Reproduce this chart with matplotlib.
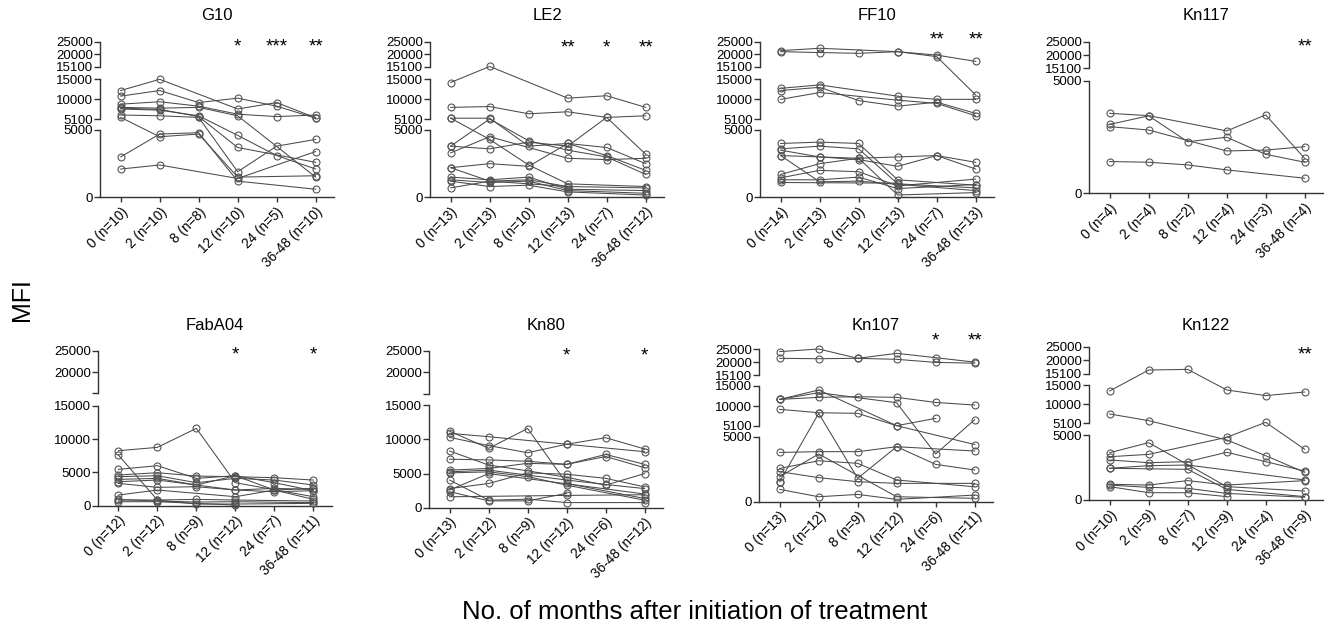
import numpy as np
import matplotlib
matplotlib.use("Agg")
import matplotlib.pyplot as plt

plt.rcParams['font.family'] = ['Liberation Sans', 'DejaVu Sans']

nan = np.nan
months = ["0", "2", "8", "12", "24", "36-48"]

# ---- data (MFI per patient, NaN = no sample) ----
g10_n = [10, 10, 8, 10, 5, 10]
g10 = [
    [12200, 15000, nan, 7600, 9200, 5400],
    [10800, 12200, 9200, 10300, 8300, 5300],
    [8800, 9400, 8300, 6300, 5700, 6100],
    [8000, 7800, 8000, 5900, nan, 1500],
    [7600, 7300, 5900, 4600, 3100, 2100],
    [7800, 7500, 5700, 3700, nan, 2600],
    [6100, 5900, 5500, 1900, 3800, 4300],
    [5500, 4500, 4700, 1500, nan, 1600],
    [3000, 4700, 4800, 1200, nan, 600],
    [2100, 2400, nan, 1400, nan, 3400],
]
g10_stars = ["", "", "", "*", "***", "**"]

le2_n = [13, 13, 10, 13, 7, 12]
le2 = [
    [14200, 15200, nan, 10300, 10900, 8000],
    [8000, 8200, 6400, 6900, 5500, 5900],
    [5300, 5300, 3800, 4000, 3700, 2500],
    [5300, 4300, 2400, 1000, nan, 800],
    [3800, 5100, 4200, 3500, 3000, 1700],
    [3800, 3600, 4100, 3800, 5500, 3200],
    [3300, 4500, nan, 2900, 2800, 2900],
    [2200, 2500, 2300, 4000, 3100, 2000],
    [2200, 1200, 1300, 800, nan, 700],
    [1500, 1300, 1500, 600, nan, 500],
    [1300, 1100, 1200, 500, nan, 300],
    [1200, 800, 900, 400, nan, 170],
    [700, 1200, nan, 800, nan, nan],
]
le2_stars = ["", "", "", "**", "*", "**"]

ff10_n = [14, 13, 10, 13, 7, 13]
ff10 = [
    [21450, 22400, nan, 21050, 19700, 17200],
    [21050, 20700, 20400, 21050, 19100, 11100],
    [12750, 13600, nan, 10800, 10000, 10000],
    [12200, 13000, 9700, 8300, 9300, 6500],
    [10000, 11700, nan, 9800, 9000, 5900],
    [4000, 4100, 4000, 1300, nan, 900],
    [3600, 3800, 3600, 1000, nan, 700],
    [3500, 3000, 2900, 3000, 3100, 2600],
    [3100, 1150, 1200, nan, nan, 500],
    [3100, 3000, 2800, 2300, 3100, 2100],
    [1700, 2500, 2900, 170, nan, 350],
    [1450, 2000, 1900, 850, nan, 1350],
    [1300, 1300, 1500, 650, nan, 950],
    [1100, nan, nan, 1050, nan, nan],
]
ff10_stars = ["", "", "", "", "**", "**"]

kn117_n = [4, 4, 2, 4, 3, 4]
kn117 = [
    [3550, 3450, nan, 2770, 3480, 1550],
    [3060, 3440, 2290, 2490, 1730, 1380],
    [2960, 2810, nan, 1880, 1920, 2070],
    [1410, 1380, 1260, 1040, nan, 670],
]
kn117_stars = ["", "", "", "", "", "**"]

faba04_n = [12, 12, 9, 12, 7, 11]
faba04 = [
    [8250, 8750, 11600, 3450, nan, 1350],
    [7600, 850, 950, 850, nan, 700],
    [5450, 6000, 4100, 4500, 3450, 2250],
    [4600, 4950, 4450, 4350, 4200, 3850],
    [4350, 4500, 3450, 4100, 3850, 3100],
    [3950, 4100, 3100, 4500, 2350, 2600],
    [3600, 3850, nan, 2350, 2600, 2450],
    [3350, 2750, 2850, 2350, 2100, 2250],
    [1600, 2350, nan, 1350, 2350, 950],
    [950, 700, 550, 600, nan, 450],
    [850, 850, 250, 250, nan, 350],
    [600, 600, nan, 100, nan, nan],
]
faba04_stars = ["", "", "", "*", "", "*"]

kn80_n = [13, 12, 9, 12, 6, 12]
kn80 = [
    [11200, 8700, 11600, 3550, nan, 1350],
    [10900, 10400, nan, 9300, nan, 8200],
    [10300, 9100, 8050, 9300, 10250, 8600],
    [8300, 6250, 5400, 4450, 3300, 5000],
    [7100, 7000, 6800, 6350, 7800, 6350],
    [5500, 5750, 6500, 6350, 7500, 5850],
    [5250, 5500, nan, 4050, 3400, 2800],
    [5100, 5250, 4550, 3300, nan, 1100],
    [4050, 1100, 1250, 750, nan, 750],
    [2800, 3550, 5100, 4900, 4300, 3050],
    [2600, 5000, nan, nan, nan, 2000],
    [2350, 1000, 1000, 2100, nan, nan],
    [1600, nan, nan, 1800, nan, 1900],
]
kn80_stars = ["", "", "", "*", "", "*"]

kn107_n = [13, 12, 9, 12, 6, 11]
kn107 = [
    [24000, 25000, 21450, 23350, 21700, 20000],
    [21450, 21300, 21450, 21070, 19900, 19600],
    [11660, 12170, 12330, 12170, 10900, 10250],
    [11660, 14000, nan, 5100, nan, 4400],
    [11660, 13340, nan, 10830, 3670, 6600],
    [9180, 8340, 8180, 5100, 6930, nan],
    [3790, 3850, 3850, 4230, nan, 3900],
    [1540, 8180, 1800, 4230, 2870, 2440],
    [2560, 3150, 2950, 1670, nan, 1150],
    [2310, 1850, 1540, 1410, nan, 1410],
    [1920, 3670, nan, 380, nan, 260],
    [950, 380, 560, 180, nan, 510],
    [1490, nan, nan, nan, nan, nan],
]
kn107_stars = ["", "", "", "", "*", "**"]

kn122_n = [10, 9, 7, 9, 4, 9]
kn122 = [
    [13460, 16440, 16690, 13720, 12260, 13190],
    [7510, 5790, nan, 4620, 3410, 2130],
    [3640, 4410, nan, 1030, nan, 690],
    [3330, 3510, nan, 4820, 5350, 3900],
    [3080, 2870, 2950, 3670, 2950, 2230],
    [2440, 2640, 2690, nan, nan, 1540],
    [2440, nan, 2360, 820, nan, 260],
    [1210, 1150, 1490, 1150, nan, 1490],
    [1150, 970, 900, 510, nan, 210],
    [1030, 560, 560, 260, nan, nan],
]
kn122_stars = ["", "", "", "", "", "**"]

# ---- segmented y axes (value breakpoints -> pixel rows in the figure) ----
seg3_vals = [0, 5000, 5100, 15000, 15100, 25000]
seg3_ticks = [0, 5000, 5100, 10000, 15000, 15100, 20000, 25000]
seg3_labels = [str(t) for t in seg3_ticks]
seg3_spine = [(0, 5000), (5100, 15000), (15100, 25000)]

seg2_vals = [0, 15000, 15100, 25000]
seg2_ticks = [0, 5000, 10000, 15000, 15100, 20000, 25000]
seg2_labels = ["0", "5000", "10000", "15000", "", "20000", "25000"]
seg2_spine = [(0, 15000), (15100, 25000)]

kn_vals = [0, 5000, 15100, 25000]
kn_ticks = [0, 5000, 15100, 20000, 25000]
kn_labels = [str(t) for t in kn_ticks]
kn_spine = [(0, 5000), (15100, 25000)]

W, H = 1326, 638
fig = plt.figure(figsize=(W / 100, H / 100), dpi=100)

LINE = '#4a4a4a'
AX = '#333333'


def panel(title, counts, series, stars, x_px, vals, pix, ticks, labels, spine, star_px):
    y0 = pix[0]
    ytop = pix[-1]
    ax = fig.add_axes([x_px / W, (H - y0) / H, 234 / W, (y0 - ytop) / H])
    pos = [y0 - p for p in pix]
    fwd = lambda v: np.interp(v, vals, pos)
    inv = lambda u: np.interp(u, pos, vals)
    ax.set_yscale('function', functions=(fwd, inv))
    ax.set_ylim(0, 25000)
    ax.set_xlim(-0.53, 5.47)

    x = np.arange(len(months))
    for s in series:
        s = np.array(s, dtype=float)
        m = ~np.isnan(s)
        ax.plot(x[m], s[m], color=LINE, lw=0.75, marker='o', ms=5.0,
                mfc='none', mec='#555555', mew=0.8, clip_on=False, zorder=3)

    for sp in ['top', 'right', 'left']:
        ax.spines[sp].set_visible(False)
    ax.spines['bottom'].set_color(AX)
    ax.spines['bottom'].set_linewidth(1.0)
    for lo, hi in spine:
        ax.plot([0, 0], [lo, hi], color=AX, lw=1.0,
                transform=ax.get_yaxis_transform(), clip_on=False)

    ax.set_yticks(ticks)
    ax.set_yticklabels(labels)
    ax.set_xticks(x)
    ax.set_xticklabels([f"{mo} (n={n})" for mo, n in zip(months, counts)],
                       rotation=45, ha='right', rotation_mode='anchor')
    ax.tick_params(axis='y', length=4, width=1.0, color=AX, labelsize=9.5, pad=1)
    ax.tick_params(axis='x', length=3.5, width=1.0, color=AX, labelsize=9.8, pad=2)
    ax.minorticks_off()

    sy = (y0 - star_px) / (y0 - ytop)
    for i, st in enumerate(stars):
        if st:
            ax.text(i, sy, st, transform=ax.get_xaxis_transform(),
                    ha='center', va='center', fontsize=13.5)
    title_px = 16 if y0 < 300 else 325
    ax.text(0.5, (y0 - title_px) / (y0 - ytop), title, transform=ax.transAxes,
            ha='center', va='center', fontsize=12)
    return ax


row1 = [197.3, 130, 119, 79.3, 66.7, 41.7]
panel("G10", g10_n, g10, g10_stars, 100, seg3_vals, row1, seg3_ticks, seg3_labels, seg3_spine, 47)
panel("LE2", le2_n, le2, le2_stars, 430, seg3_vals, row1, seg3_ticks, seg3_labels, seg3_spine, 48)
panel("FF10", ff10_n, ff10, ff10_stars, 760, seg3_vals, row1, seg3_ticks, seg3_labels, seg3_spine, 40)
panel("Kn117", kn117_n, kn117, kn117_stars, 1089, kn_vals, [193.3, 80.7, 68.3, 41.7],
      kn_ticks, kn_labels, kn_spine, 47)
panel("FabA04", faba04_n, faba04, faba04_stars, 97.7, seg2_vals, [505.7, 405.7, 393.3, 350.7],
      seg2_ticks, seg2_labels, seg2_spine, 355)
panel("Kn80", kn80_n, kn80, kn80_stars, 429, seg2_vals, [507.7, 405.3, 393.5, 350.7],
      seg2_ticks, seg2_labels, seg2_spine, 356)
panel("Kn107", kn107_n, kn107, kn107_stars, 759, seg3_vals, [501.7, 436.7, 425.7, 386, 375, 349],
      seg3_ticks, seg3_labels, seg3_spine, 341)
panel("Kn122", kn122_n, kn122, kn122_stars, 1089, seg3_vals, [500, 435, 423.3, 385, 373.7, 346.7],
      seg3_ticks, seg3_labels, seg3_spine, 355)

fig.text(22 / W, 1 - 300 / H, "MFI", rotation=90, ha='center', va='center', fontsize=18)
fig.text(695 / W, 1 - 612 / H, "No. of months after initiation of treatment",
         ha='center', va='center', fontsize=18.5)

fig.savefig("out.png", dpi=100)
